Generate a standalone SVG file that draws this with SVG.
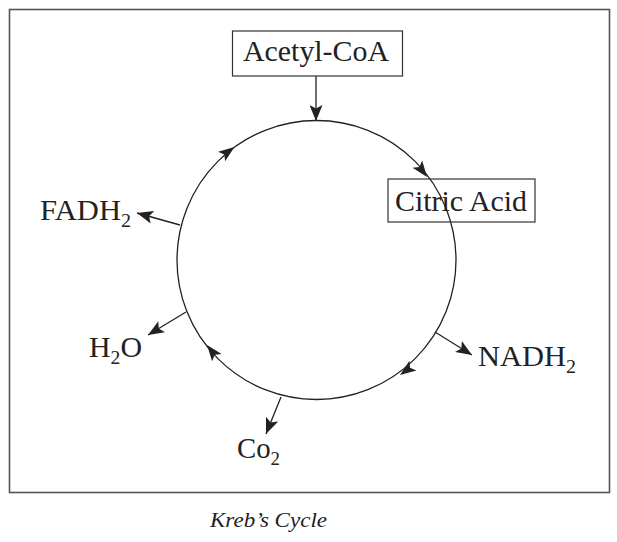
<svg xmlns="http://www.w3.org/2000/svg" width="617" height="542" viewBox="0 0 617 542">
<style>
.t{font-family:"Liberation Serif","Times New Roman",serif;font-size:29px;fill:#222}
.s{font-size:19px}
.box{fill:none;stroke:#333;stroke-width:1.2}
.ln{fill:none;stroke:#222;stroke-width:1.3}
.cap{font-family:"Liberation Serif","Times New Roman",serif;font-size:22px;font-style:italic;fill:#222}
</style>
<defs>
<marker id="arr" viewBox="0 0 16 13" refX="16" refY="6.5" markerWidth="16" markerHeight="13" markerUnits="userSpaceOnUse" orient="auto">
<path d="M0,0 L16,6.5 L0,13 L3.5,6.5 Z" fill="#222"/>
</marker>
<path id="ah" d="M0,0 L-16,-6 L-12.5,0 L-16,6 Z" fill="#222"/>
</defs>
<rect x="9.5" y="9.5" width="600" height="483" fill="#fff" stroke="#555" stroke-width="1.6"/>
<g id="connectors">
<circle cx="316.5" cy="260" r="139.5" class="ln"/>
<use href="#ah" transform="translate(234.5,147.1) rotate(-36)"/>
<use href="#ah" transform="translate(427,177) rotate(53)"/>
<use href="#ah" transform="translate(400,375) rotate(144)"/>
<use href="#ah" transform="translate(207,345) rotate(232)"/>
<line x1="316" y1="76" x2="316" y2="121" class="ln" marker-end="url(#arr)"/>
<line x1="180" y1="225" x2="137" y2="213" class="ln" marker-end="url(#arr)"/>
<line x1="186" y1="312" x2="148" y2="335" class="ln" marker-end="url(#arr)"/>
<line x1="281" y1="397" x2="266" y2="434" class="ln" marker-end="url(#arr)"/>
<line x1="435" y1="332" x2="472" y2="355" class="ln" marker-end="url(#arr)"/>
</g>
<g id="acetyl">
<rect x="232.5" y="31" width="170" height="45" class="box"/>
<text x="316" y="61" text-anchor="middle" class="t" textLength="146" lengthAdjust="spacingAndGlyphs">Acetyl-CoA</text>
</g>
<g id="citric">
<rect x="388" y="179" width="147" height="43" class="box"/>
<text x="461" y="211" text-anchor="middle" class="t" textLength="132" lengthAdjust="spacingAndGlyphs">Citric Acid</text>
</g>
<g id="fadh2"><text x="40" y="220" class="t" textLength="91" lengthAdjust="spacingAndGlyphs">FADH<tspan class="s" dy="7">2</tspan></text></g>
<g id="h2o"><text x="89" y="357" class="t" textLength="53" lengthAdjust="spacingAndGlyphs">H<tspan class="s" dy="7">2</tspan><tspan dy="-7">O</tspan></text></g>
<g id="nadh2"><text x="478" y="366" class="t" textLength="98" lengthAdjust="spacingAndGlyphs">NADH<tspan class="s" dy="7">2</tspan></text></g>
<g id="co2"><text x="237" y="458" class="t" textLength="43" lengthAdjust="spacingAndGlyphs">Co<tspan class="s" dy="7">2</tspan></text></g>
<text x="268.5" y="527" text-anchor="middle" class="cap" textLength="117" lengthAdjust="spacingAndGlyphs">Kreb’s Cycle</text>
</svg>
